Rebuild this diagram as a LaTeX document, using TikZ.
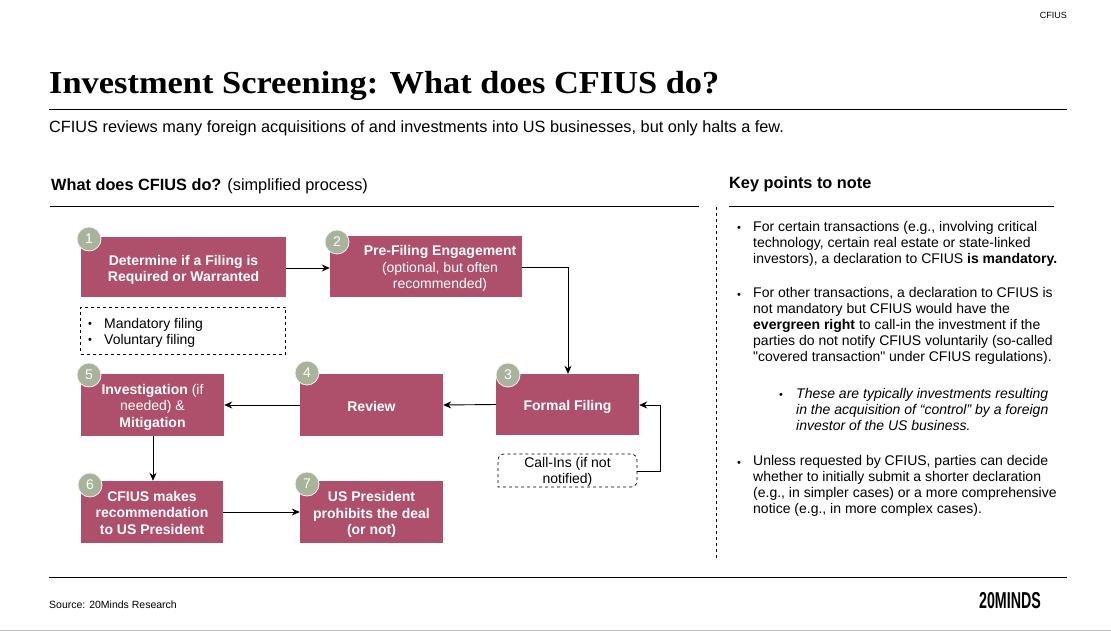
\documentclass[tikz,border=0pt]{standalone}
\usepackage{fontspec}
\setmainfont[Ligatures=TeXOff]{Liberation Sans}
\newfontfamily\titlefont{Liberation Serif}
\usepackage{xcolor}
\usetikzlibrary{arrows.meta,positioning}
\definecolor{RoseBox}{HTML}{AE506B}
\definecolor{SageDot}{HTML}{A9B29B}
\tikzset{
  stepbox/.style={fill=RoseBox, text=white, align=center, inner sep=0, font=\fontsize{14}{16.5}\selectfont\bfseries},
  stepdot/.style={circle, fill=SageDot, draw=white!85!SageDot, line width=0.8pt, minimum size=24, inner sep=0, text=white, font=\fontsize{14}{16}\selectfont},
  flow/.style={draw=black, line width=0.9pt, arrows={-Stealth[length=8pt, width=7pt]}},
  rule/.style={draw=black, line width=0.8pt},
  bodytext/.style={anchor=north west, align=left, inner sep=0, font=\fontsize{14}{16}\selectfont},
  dot/.style={anchor=north west, inner sep=0, font=\fontsize{14}{16}\selectfont}
}
\newcommand{\smalldot}{\vphantom{Fg}{\fontsize{11}{16}\selectfont •}}
\newcommand{\lift}[1]{\rule{0pt}{#1pt}}
\begin{document}
\begin{tikzpicture}[x=1pt,y=-1pt]
\useasboundingbox[fill=white] (0,0) rectangle (1111,631);

% header
\node[anchor=east, inner sep=0, font=\fontsize{9}{11}\selectfont] (tag) at (1067,15) {CFIUS};
\node[anchor=west, inner sep=0, xscale=1.075, font=\fontsize{32}{36}\selectfont\titlefont\bfseries] (title) at (49,86) {Investment Screening: What does CFIUS do?};
\node[anchor=west, inner sep=0, font=\fontsize{16.3}{19}\selectfont] (sub) at (49,128) {CFIUS reviews many foreign acquisitions of and investments into US businesses, but only halts a few.};
\node[anchor=west, inner sep=0, font=\fontsize{16.3}{19}\selectfont] (lefthead) at (51,186) {\textbf{What does CFIUS do?} (simplified process)};
\node[anchor=west, inner sep=0, font=\fontsize{16.3}{19}\selectfont\bfseries] (righthead) at (729,184) {Key points to note};

\coordinate (r1a) at (49,109); \coordinate (r1b) at (1067,109);
\coordinate (r2a) at (50,206); \coordinate (r2b) at (699,206);
\coordinate (r3a) at (729,206); \coordinate (r3b) at (1054,206);
\coordinate (r4a) at (49,577); \coordinate (r4b) at (1067,577);
\coordinate (r5a) at (716,207); \coordinate (r5b) at (716,558);
\coordinate (r6a) at (0,630); \coordinate (r6b) at (1111,630);
\draw[rule] (r1a) -- (r1b);
\draw[rule] (r2a) -- (r2b);
\draw[rule] (r3a) -- (r3b);
\draw[rule] (r4a) -- (r4b);
\draw[draw=black, line width=0.7pt, dashed] (r5a) -- (r5b);
\draw[draw=black!25, line width=1pt] (r6a) -- (r6b);

% boxes
\node[stepbox, minimum width=205, minimum height=60] (B1) at (183.5,267) {\lift{16}Determine if a Filing is\\Required or Warranted};
\node[stepbox, minimum width=192, minimum height=61] (B2) at (426,266.5) {};
\node[stepbox, fill=none] (B2t) at (440,266.5) {\lift{14}Pre-Filing Engagement\\{\mdseries (optional, but often}\\{\mdseries recommended)}};
\node[stepbox, minimum width=143, minimum height=61] (B3) at (567.5,404.5) {\lift{15}Formal Filing};
\node[stepbox, minimum width=143, minimum height=62] (B4) at (371.5,405) {\lift{13}Review};
\node[stepbox, minimum width=143, minimum height=62] (B5) at (152.5,405) {\lift{14}Investigation {\mdseries (if}\\{\mdseries needed) \&}\\Mitigation};
\node[stepbox, minimum width=142, minimum height=62] (B6) at (152,512) {\lift{12}CFIUS makes\\recommendation\\to US President};
\node[stepbox, minimum width=143, minimum height=62] (B7) at (371.5,512) {\lift{15}US President\\prohibits the deal\\(or not)};

% dashed notes
\node[draw=black, dashed, line width=0.7pt, minimum width=205, minimum height=47, inner sep=0] (N1) at (183,330.5) {};
\node[dot] (N1a) at (88,318) {\smalldot};
\node[dot] (N1c) at (88,334) {\smalldot};
\node[bodytext] (N1b) at (104,318) {Mandatory filing\\Voluntary filing};
\node[minimum width=139, minimum height=33, inner sep=0, align=center, font=\fontsize{14}{16}\selectfont] (N2) at (567.5,472) {Call-Ins (if not\\notified)};
\coordinate (N2top) at (567.5,454);
\draw[dashed, line width=0.7pt, rounded corners=6pt] (N2top) -- (637,454) -- (637,487) [sharp corners] -- (498,487) [rounded corners=6pt] -- (498,454) [sharp corners] -- (N2top);

% numbers
\node[stepdot] (D1) at (89,239) {1};
\node[stepdot] (D2) at (337,242) {2};
\node[stepdot] (D3) at (508,375) {3};
\node[stepdot] (D4) at (307,373) {4};
\node[stepdot] (D5) at (89,375) {5};
\node[stepdot] (D6) at (90,485) {6};
\node[stepdot] (D7) at (307,484) {7};

% arrows
\draw[flow] (B1.east |- 0,268) -- (B2.west |- 0,268);
\draw[flow] (B2.east |- 0,267) -- (568,267) -- (B3.north -| 568,0);
\draw[flow] (B3.west) -- (B4.east);
\draw[flow] (B4.west) -- (B5.east);
\draw[flow] (B5.south -| 153,0) -- (B6.north -| 153,0);
\draw[flow] (B6.east) -- (B7.west);
\draw[flow] (N2.east |- 0,471) -- (660,471) -- (660,405) -- (B3.east |- 0,405);

% key points
\node[dot] (P1d) at (737,222) {\smalldot};
\node[bodytext] (P1) at (753,221) {For certain transactions (e.g., involving critical\\technology, certain real estate or state-linked\\investors), a declaration to CFIUS \textbf{is mandatory.}};
\node[dot] (P2d) at (737,288.5) {\smalldot};
\node[bodytext] (P2) at (753,287.5) {For other transactions, a declaration to CFIUS is\\not mandatory but CFIUS would have the\\\textbf{evergreen right} to call-in the investment if the\\parties do not notify CFIUS voluntarily (so-called\\"covered transaction" under CFIUS regulations).};
\node[dot] (P3d) at (779,389) {\smalldot};
\node[bodytext, font=\fontsize{14}{16}\selectfont\itshape] (P3) at (796,388) {These are typically investments resulting\\in the acquisition of “control” by a foreign\\investor of the US business.};
\node[dot] (P4d) at (737,456.5) {\smalldot};
\node[bodytext] (P4) at (753,455.5) {Unless requested by CFIUS, parties can decide\\whether to initially submit a shorter declaration\\(e.g., in simpler cases) or a more comprehensive\\notice (e.g., in more complex cases).};

% footer
\node[anchor=west, inner sep=0, font=\fontsize{10.5}{12}\selectfont] (src) at (49,605) {Source: 20Minds Research};
\node[anchor=east, inner sep=0, xscale=0.62, font=\fontsize{23}{26}\selectfont\bfseries] (logo) at (1041,601) {20MINDS};
\end{tikzpicture}
\end{document}
